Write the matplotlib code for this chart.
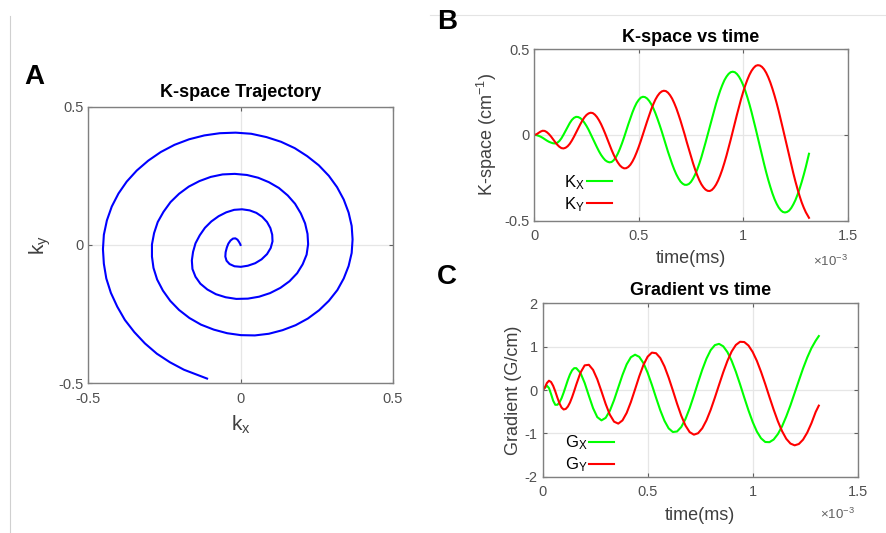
import numpy as np
import matplotlib
matplotlib.use("Agg")
import matplotlib.pyplot as plt
from matplotlib.lines import Line2D
from matplotlib.ticker import FuncFormatter

plt.rcParams['font.family'] = ['Liberation Sans', 'DejaVu Sans']
plt.rcParams['mathtext.fontset'] = 'custom'
plt.rcParams['mathtext.rm'] = 'Liberation Sans'
plt.rcParams['mathtext.it'] = 'Liberation Sans'

# k-space samples, time in ms
t_k = [0.00, 0.01, 0.02, 0.03, 0.04, 0.05, 0.06, 0.07, 0.08, 0.09,
       0.10, 0.11, 0.12, 0.13, 0.14, 0.15, 0.16, 0.17, 0.18, 0.19,
       0.20, 0.21, 0.22, 0.23, 0.24, 0.25, 0.26, 0.27, 0.28, 0.29,
       0.30, 0.31, 0.32, 0.33, 0.34, 0.35, 0.36, 0.37, 0.38, 0.39,
       0.40, 0.41, 0.42, 0.43, 0.44, 0.45, 0.46, 0.47, 0.48, 0.49,
       0.50, 0.51, 0.52, 0.53, 0.54, 0.55, 0.56, 0.57, 0.58, 0.59,
       0.60, 0.61, 0.62, 0.63, 0.64, 0.65, 0.66, 0.67, 0.68, 0.69,
       0.70, 0.71, 0.72, 0.73, 0.74, 0.75, 0.76, 0.77, 0.78, 0.79,
       0.80, 0.81, 0.82, 0.83, 0.84, 0.85, 0.86, 0.87, 0.88, 0.89,
       0.90, 0.91, 0.92, 0.93, 0.94, 0.95, 0.96, 0.97, 0.98, 0.99,
       1.00, 1.01, 1.02, 1.03, 1.04, 1.05, 1.06, 1.07, 1.08, 1.09,
       1.10, 1.11, 1.12, 1.13, 1.14, 1.15, 1.16, 1.17, 1.18, 1.19,
       1.20, 1.21, 1.22, 1.23, 1.24, 1.25, 1.26, 1.27, 1.28, 1.29,
       1.30, 1.315]

kx = [0, -0.001, -0.005, -0.010, -0.017, -0.025, -0.033, -0.040, -0.045, -0.049,
      -0.050, -0.046, -0.036, -0.020, 0.001, 0.024, 0.048, 0.069, 0.087, 0.099,
      0.105, 0.104, 0.098, 0.087, 0.071, 0.052, 0.030, 0.005, -0.021, -0.047,
      -0.072, -0.096, -0.117, -0.134, -0.148, -0.156, -0.160, -0.158, -0.148, -0.132,
      -0.109, -0.081, -0.049, -0.014, 0.024, 0.061, 0.097, 0.131, 0.161, 0.186,
      0.204, 0.217, 0.222, 0.220, 0.212, 0.198, 0.179, 0.155, 0.126, 0.093,
      0.058, 0.021, -0.019, -0.059, -0.098, -0.135, -0.170, -0.202, -0.230, -0.253,
      -0.272, -0.284, -0.291, -0.291, -0.286, -0.274, -0.255, -0.231, -0.202, -0.168,
      -0.130, -0.088, -0.044, 0.001, 0.047, 0.093, 0.138, 0.181, 0.221, 0.258,
      0.290, 0.318, 0.339, 0.355, 0.365, 0.368, 0.365, 0.355, 0.339, 0.317,
      0.290, 0.257, 0.219, 0.178, 0.133, 0.085, 0.035, -0.016, -0.068, -0.119,
      -0.169, -0.217, -0.262, -0.303, -0.341, -0.374, -0.401, -0.423, -0.439, -0.449,
      -0.452, -0.449, -0.441, -0.426, -0.405, -0.380, -0.349, -0.314, -0.275, -0.232,
      -0.186, -0.110]
ky = [0, 0.003, 0.011, 0.019, 0.024, 0.023, 0.016, 0.005, -0.009, -0.026,
      -0.042, -0.057, -0.069, -0.077, -0.079, -0.075, -0.066, -0.052, -0.033, -0.011,
      0.013, 0.037, 0.061, 0.083, 0.102, 0.116, 0.125, 0.129, 0.127, 0.118,
      0.104, 0.085, 0.062, 0.035, 0.006, -0.025, -0.056, -0.087, -0.115, -0.140,
      -0.161, -0.178, -0.189, -0.195, -0.194, -0.187, -0.174, -0.155, -0.131, -0.102,
      -0.070, -0.035, 0.003, 0.040, 0.078, 0.114, 0.149, 0.179, 0.206, 0.227,
      0.243, 0.253, 0.257, 0.255, 0.246, 0.231, 0.211, 0.185, 0.155, 0.120,
      0.083, 0.043, 0.002, -0.042, -0.083, -0.125, -0.165, -0.202, -0.235, -0.264,
      -0.288, -0.306, -0.319, -0.326, -0.327, -0.321, -0.308, -0.290, -0.266, -0.236,
      -0.202, -0.163, -0.121, -0.076, -0.029, 0.020, 0.069, 0.117, 0.164, 0.209,
      0.250, 0.288, 0.321, 0.350, 0.373, 0.390, 0.402, 0.406, 0.404, 0.396,
      0.382, 0.362, 0.336, 0.305, 0.269, 0.229, 0.186, 0.139, 0.089, 0.037,
      -0.015, -0.068, -0.121, -0.173, -0.223, -0.271, -0.315, -0.356, -0.393, -0.424,
      -0.451, -0.483]

# gradient samples, time in ms
t_g = [0.00, 0.01, 0.02, 0.03, 0.04, 0.05, 0.06, 0.07, 0.08, 0.09,
       0.10, 0.11, 0.12, 0.13, 0.14, 0.15, 0.16,
       0.18, 0.20, 0.22, 0.24, 0.26, 0.28, 0.30, 0.32, 0.34, 0.36,
       0.38, 0.40, 0.42, 0.44, 0.46, 0.48, 0.50, 0.52,
       0.54, 0.56, 0.58, 0.60, 0.62, 0.64, 0.66, 0.68, 0.70, 0.72,
       0.74, 0.76, 0.78, 0.80, 0.82, 0.84, 0.86, 0.88, 0.90, 0.92, 0.94,
       0.96, 0.98, 1.00, 1.02, 1.04, 1.06, 1.08, 1.10, 1.12, 1.14, 1.16, 1.18, 1.20,
       1.22, 1.24, 1.26, 1.28, 1.30, 1.315]
gx = [0, 0.05, 0.1, 0.045, -0.093, -0.247, -0.341, -0.341, -0.286, -0.188,
      -0.058, 0.087, 0.233, 0.359, 0.454, 0.504, 0.505,
      0.394, 0.163, -0.133, -0.419, -0.625, -0.700, -0.642, -0.478, -0.232, 0.058,
      0.347, 0.593, 0.757, 0.815, 0.765, 0.620, 0.397, 0.121,
      -0.178, -0.466, -0.710, -0.885, -0.969, -0.956, -0.853, -0.669, -0.420, -0.130,
      0.176, 0.468, 0.724, 0.920, 1.036, 1.065, 1.008, 0.874, 0.674, 0.421, 0.132,
      -0.173, -0.468, -0.736, -0.957, -1.114, -1.199, -1.203, -1.142, -1.017, -0.838, -0.610, -0.352, -0.068,
      0.217, 0.497, 0.750, 0.967, 1.137, 1.245]
gy = [0, 0.054, 0.161, 0.215, 0.184, 0.096, -0.031, -0.175, -0.308, -0.405,
      -0.449, -0.436, -0.381, -0.289, -0.166, -0.025, 0.125,
      0.401, 0.569, 0.582, 0.465, 0.248, -0.032, -0.322, -0.570, -0.730, -0.775,
      -0.701, -0.528, -0.278, 0.017, 0.317, 0.580, 0.770, 0.863,
      0.849, 0.739, 0.545, 0.285, -0.010, -0.315, -0.593, -0.820, -0.971, -1.030,
      -0.997, -0.883, -0.699, -0.458, -0.176, 0.120, 0.411, 0.674, 0.890, 1.040, 1.113,
      1.107, 1.027, 0.879, 0.673, 0.419, 0.137, -0.162, -0.452, -0.720, -0.948, -1.125, -1.235, -1.276,
      -1.245, -1.145, -0.982, -0.765, -0.508, -0.36]

tk_s = np.array(t_k) * 1e-3
tg_s = np.array(t_g) * 1e-3

spine_col = '#808080'
tick_col = '#505050'
grid_col = '#e6e6e6'
fmt_g = FuncFormatter(lambda v, p: '%g' % v)
fmt_ms = FuncFormatter(lambda v, p: '%g' % round(v * 1e3, 3))


def matlab_axes(ax):
    for s in ax.spines.values():
        s.set_color(spine_col)
        s.set_linewidth(1.0)
    ax.tick_params(direction='in', length=3, width=0.8, color='#606060',
                   labelcolor=tick_col, labelsize=10.5, top=True, right=True)
    ax.tick_params(axis='x', pad=6)
    ax.grid(True, color=grid_col, linewidth=0.9)
    ax.set_axisbelow(True)


fig = plt.figure(figsize=(8.86, 5.33), dpi=100)

# frame lines left over from the slide
fig.add_artist(Line2D([0.011, 0.011], [0.0, 0.97], color='#d0d0d0', lw=0.8))
fig.add_artist(Line2D([0.485, 1.0], [0.971, 0.971], color='#e4e4e4', lw=0.8))

# A: trajectory
axA = fig.add_axes([0.0997, 0.2809, 0.3436, 0.519])
axA.plot(kx, ky, color='#0000ff', lw=1.5)
axA.set_xlim(-0.5, 0.5)
axA.set_ylim(-0.5, 0.5)
axA.set_xticks([-0.5, 0, 0.5])
axA.set_yticks([-0.5, 0, 0.5])
axA.xaxis.set_major_formatter(fmt_g)
axA.yaxis.set_major_formatter(fmt_g)
matlab_axes(axA)
axA.set_title('K-space Trajectory', fontsize=13, fontweight='bold', pad=7)
axA.set_xlabel('$\\mathregular{k_x}$', fontsize=15, color='#404040', labelpad=6)
axA.set_ylabel('$\\mathregular{k_y}$', fontsize=15, color='#404040', labelpad=4)

# B: k-space vs time
axB = fig.add_axes([0.603, 0.5859, 0.3537, 0.3221])
lkx, = axB.plot(tk_s, kx, color='#00ff00', lw=1.5)
lky, = axB.plot(tk_s, ky, color='#ff0000', lw=1.5)
axB.set_xlim(0, 1.5e-3)
axB.set_ylim(-0.5, 0.5)
axB.set_xticks([0, 0.5e-3, 1e-3, 1.5e-3])
axB.set_yticks([-0.5, 0, 0.5])
axB.xaxis.set_major_formatter(fmt_ms)
axB.yaxis.set_major_formatter(fmt_g)
matlab_axes(axB)
axB.set_title('K-space vs time', fontsize=13, fontweight='bold', pad=5)
axB.set_xlabel('time(ms)', fontsize=13, color='#404040', labelpad=5)
axB.set_ylabel('K-space (cm$^{-1}$)', fontsize=13, color='#404040', labelpad=4)
axB.text(1.0, -0.235, '$\\times$10$^{-3}$', transform=axB.transAxes, ha='right',
         va='center', fontsize=9.5, color='#606060')
axB.legend([lkx, lky], ['$\\mathregular{K_X}$', '$\\mathregular{K_Y}$'],
           loc='lower left', bbox_to_anchor=(0.095, 0.04), frameon=False,
           markerfirst=False, handlelength=1.5, handletextpad=0.15,
           labelspacing=0.2, borderpad=0, borderaxespad=0, fontsize=12)

# C: gradient vs time
axC = fig.add_axes([0.6125, 0.1056, 0.3555, 0.3253])
lgx, = axC.plot(tg_s, gx, color='#00ff00', lw=1.5)
lgy, = axC.plot(tg_s, gy, color='#ff0000', lw=1.5)
axC.set_xlim(0, 1.5e-3)
axC.set_ylim(-2, 2)
axC.set_xticks([0, 0.5e-3, 1e-3, 1.5e-3])
axC.set_yticks([-2, -1, 0, 1, 2])
axC.xaxis.set_major_formatter(fmt_ms)
axC.yaxis.set_major_formatter(fmt_g)
matlab_axes(axC)
axC.set_title('Gradient vs time', fontsize=13, fontweight='bold', pad=6)
axC.set_xlabel('time(ms)', fontsize=13, color='#404040', labelpad=6)
axC.set_ylabel('Gradient (G/cm)', fontsize=13, color='#404040', labelpad=2)
axC.text(0.99, -0.215, '$\\times$10$^{-3}$', transform=axC.transAxes, ha='right',
         va='center', fontsize=9.5, color='#606060')
axC.legend([lgx, lgy], ['$\\mathregular{G_X}$', '$\\mathregular{G_Y}$'],
           loc='lower left', bbox_to_anchor=(0.07, 0.015), frameon=False,
           markerfirst=False, handlelength=1.5, handletextpad=0.1,
           labelspacing=0.2, borderpad=0, borderaxespad=0, fontsize=12)

# panel letters
fig.text(34 / 886, 1 - 77 / 533, 'A', fontsize=20, fontweight='bold', ha='center', va='center')
fig.text(447 / 886, 1 - 22 / 533, 'B', fontsize=20, fontweight='bold', ha='center', va='center')
fig.text(447 / 886, 1 - 277 / 533, 'C', fontsize=20, fontweight='bold', ha='center', va='center')

fig.savefig('out.png', dpi=100, facecolor='white')
